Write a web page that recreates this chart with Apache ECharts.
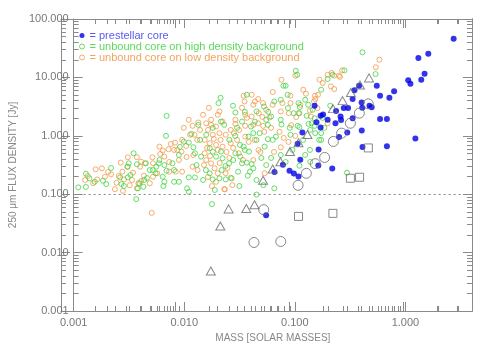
<!DOCTYPE html>
<html>
<head>
    <meta charset="UTF-8">
    <title>250 micron flux vs mass</title>
    <style>
        html, body { margin: 0; padding: 0; background: #fff; }
        #main { width: 491px; height: 350px; }
    </style>
</head>
<body>
<div id="main"></div>
<script src="https://cdn.jsdelivr.net/npm/echarts@6.0.0/dist/echarts.min.js"></script>
<script>
    // [mass (solar masses), 250 um flux density (Jy)]
    var prestellar = [
        [2.73, 45.7], [1.61, 25.5], [1.31, 21.5], [1.49, 11.6], [1.39, 9.1], [1.06, 8.9], [1.11, 7.8],
        [0.551, 7.2], [0.381, 7.2], [0.79, 5.8], [0.346, 6.0], [0.59, 4.85], [0.716, 4.48], [0.333, 4.26],
        [0.402, 3.72], [0.473, 3.27], [0.495, 3.08], [0.407, 3.02], [0.277, 2.98], [0.303, 2.98],
        [0.151, 3.27], [0.236, 2.65], [0.180, 2.31], [0.171, 2.20], [0.259, 2.14], [0.333, 2.00],
        [0.198, 1.88], [0.262, 1.86], [0.59, 1.93], [0.68, 1.93], [0.157, 1.70], [0.171, 1.39],
        [0.233, 1.64], [0.403, 1.23], [0.298, 1.14], [0.117, 1.14], [0.251, 0.95], [1.23, 0.90],
        [0.68, 0.66], [0.409, 0.64], [0.164, 0.58], [0.106, 0.73], [0.112, 0.39], [0.078, 0.32],
        [0.163, 0.31], [0.218, 0.275], [0.0655, 0.24], [0.0895, 0.252], [0.098, 0.226], [0.108, 0.20],
        [0.055, 0.0438]
    ];
    var unboundHigh = [
        [0.00110, 0.131], [0.00129, 0.224], [0.00129, 0.133], [0.00139, 0.187], [0.00155, 0.163],
        [0.00184, 0.170], [0.00197, 0.149], [0.00263, 0.194], [0.00270, 0.149], [0.00285, 0.138],
        [0.00305, 0.296], [0.00315, 0.338], [0.00348, 0.502], [0.00373, 0.325], [0.00393, 0.154],
        [0.00381, 0.126], [0.00450, 0.338], [0.00559, 0.296], [0.00551, 0.228], [0.00589, 0.338],
        [0.00684, 0.996], [0.00692, 2.20], [0.00661, 0.316], [0.00692, 0.252], [0.00639, 0.199],
        [0.00782, 0.338], [0.00895, 0.470], [0.00990, 0.794], [0.0110, 0.764], [0.0121, 0.637],
        [0.0125, 0.502], [0.0139, 0.851], [0.0129, 0.316], [0.0110, 0.194], [0.0125, 0.194],
        [0.0142, 0.440], [0.0106, 0.126], [0.0110, 0.110], [0.00368, 0.0824], [0.00435, 0.175],
        [0.00427, 0.134], [0.00488, 0.259], [0.00309, 0.194], [0.00809, 0.163], [0.00895, 0.163],
        [0.00648, 0.138], [0.00661, 0.163],
        [0.0215, 1.75], [0.0230, 1.54], [0.0333, 1.75], [0.0401, 1.44], [0.0435, 1.75], [0.0481, 1.11],
        [0.0570, 1.54], [0.0757, 1.56], [0.0900, 1.37], [0.0913, 1.04], [0.0675, 0.968], [0.0533, 0.652],
        [0.0570, 0.875], [0.0631, 0.851], [0.0381, 0.968], [0.0421, 1.11], [0.0344, 0.652], [0.0385, 0.536],
        [0.0290, 0.502], [0.0321, 0.440], [0.0333, 0.338], [0.0368, 0.347], [0.0407, 0.329], [0.0421, 0.277],
        [0.0393, 0.243], [0.0170, 0.612], [0.0181, 0.536], [0.0194, 0.440], [0.0215, 0.536], [0.0222, 0.412],
        [0.0254, 0.338], [0.0236, 0.304], [0.0157, 0.259], [0.0170, 0.228], [0.0181, 0.179], [0.0208, 0.187],
        [0.0237, 0.179], [0.0307, 0.243], [0.0268, 0.187], [0.110, 0.307], [0.137, 0.573], [0.106, 1.48],
        [0.133, 1.60], [0.173, 0.851], [0.0652, 0.126], [0.0450, 0.0984], [0.0178, 0.0676], [0.0315, 0.138],
        [0.0375, 0.207], [0.296, 0.233],
        [0.102, 13.0], [0.105, 11.1], [0.0788, 7.20], [0.0826, 7.20], [0.173, 6.15], [0.198, 9.39],
        [0.0204, 3.63], [0.0276, 3.27], [0.0290, 2.50], [0.0450, 2.61], [0.0526, 3.18], [0.0652, 3.87],
        [0.0865, 2.98], [0.108, 3.63], [0.0976, 2.44], [0.128, 2.20], [0.151, 2.00], [0.0610, 2.14],
        [0.0746, 1.88], [0.0551, 1.88], [0.409, 26.9], [0.537, 11.4], [0.281, 13.2], [0.219, 11.1],
        [0.111, 3.10], [0.132, 3.40], [0.209, 3.27], [0.110, 2.44], [0.142, 1.64], [0.151, 1.48],
        [0.110, 1.41], [0.173, 1.11], [0.166, 0.851], [0.153, 1.11], [0.138, 1.26], [0.0368, 5.04],
        [0.138, 0.357],
        [0.0158, 1.04], [0.0181, 1.37], [0.0256, 0.851], [0.0289, 0.996], [0.0319, 0.698], [0.0353, 0.573],
        [0.0450, 0.851], [0.0498, 0.417], [0.0551, 0.316], [0.0610, 0.417], [0.0746, 0.470], [0.0826, 0.356],
        [0.0951, 0.573], [0.119, 0.851], [0.124, 0.470], [0.0148, 0.175], [0.0189, 0.118], [0.0218, 0.259],
        [0.0277, 0.385], [0.0450, 0.175], [0.0519, 0.143], [0.0134, 1.54], [0.0116, 1.08], [0.00913, 0.645],
        [0.00809, 0.259], [0.00597, 0.385], [0.00519, 0.259], [0.00460, 0.189], [0.00326, 0.213],
        [0.00218, 0.281], [0.0746, 4.14], [0.0860, 5.04], [0.124, 4.14], [0.145, 2.79], [0.178, 2.03],
        [0.185, 1.37], [0.0574, 2.57], [0.0353, 2.57], [0.0213, 4.48], [0.0301, 1.37]
    ];
    var unboundLow = [
        [0.00158, 0.267], [0.00180, 0.277], [0.00163, 0.179], [0.00192, 0.199], [0.00218, 0.219],
        [0.00236, 0.122], [0.00244, 0.157], [0.00276, 0.243], [0.00285, 0.179], [0.00266, 0.347],
        [0.00321, 0.142], [0.00407, 0.168], [0.00432, 0.207], [0.00399, 0.296], [0.00407, 0.361],
        [0.00516, 0.429], [0.00597, 0.652], [0.00606, 0.489], [0.00639, 0.557], [0.00661, 0.440],
        [0.00721, 0.589], [0.00757, 0.726], [0.00825, 0.764], [0.00865, 0.573], [0.00945, 0.536],
        [0.00957, 0.851], [0.0104, 0.670], [0.0113, 1.04], [0.0119, 1.48], [0.0134, 1.69],
        [0.0139, 1.26], [0.0119, 0.296], [0.0132, 0.259], [0.00957, 0.243], [0.00837, 0.243],
        [0.00731, 0.243], [0.00570, 0.228], [0.00522, 0.199], [0.00488, 0.154], [0.00373, 0.126],
        [0.00279, 0.114], [0.00344, 0.233], [0.00127, 0.175], [0.00134, 0.205], [0.00150, 0.154],
        [0.00205, 0.240], [0.00309, 0.429], [0.00309, 0.296], [0.00373, 0.429], [0.00441, 0.338],
        [0.00522, 0.338], [0.00508, 0.0479], [0.00337, 0.175], [0.00385, 0.154], [0.00256, 0.205],
        [0.0158, 1.64], [0.0175, 1.54], [0.0194, 1.44], [0.0164, 1.26], [0.0181, 1.04], [0.0208, 1.11],
        [0.0237, 1.04], [0.0263, 1.26], [0.0281, 1.11], [0.0290, 1.60], [0.0356, 1.48], [0.0421, 1.54],
        [0.0466, 1.64], [0.0516, 1.48], [0.0153, 0.851], [0.0170, 0.746], [0.0194, 0.698], [0.0222, 0.652],
        [0.0263, 0.746], [0.0153, 0.502], [0.0158, 0.385], [0.0175, 0.338], [0.0188, 0.277], [0.0201, 0.228],
        [0.0237, 0.228], [0.0194, 0.163], [0.0230, 0.122], [0.0533, 0.228], [0.0746, 0.637], [0.0727, 1.17],
        [0.0926, 1.52], [0.0311, 0.502], [0.0356, 0.968], [0.0263, 0.191], [0.0757, 9.13], [0.0631, 5.61],
        [0.0407, 5.04], [0.0344, 4.85], [0.0351, 3.87], [0.0435, 3.87], [0.0466, 4.26], [0.0421, 3.40],
        [0.0516, 3.63], [0.0631, 3.40], [0.0772, 3.63], [0.0913, 4.85], [0.0913, 3.63], [0.119, 6.15],
        [0.126, 5.25], [0.198, 11.1], [0.215, 11.9], [0.167, 9.13], [0.227, 10.7], [0.179, 8.01],
        [0.152, 4.85], [0.0208, 2.61], [0.0201, 2.29], [0.0222, 1.75], [0.0290, 1.88], [0.0356, 2.29],
        [0.0407, 2.14], [0.0472, 2.44], [0.0551, 2.79], [0.0589, 2.06], [0.0746, 2.61], [0.0882, 2.44],
        [0.108, 2.44], [0.0175, 1.88], [0.582, 20.1], [0.540, 14.9], [0.268, 13.2], [0.251, 10.7],
        [0.212, 7.0], [0.227, 6.32], [0.162, 5.04], [0.153, 4.26], [0.149, 3.87], [0.101, 10.7],
        [0.137, 2.71], [0.160, 2.98], [0.112, 3.40], [0.103, 2.09], [0.140, 2.14], [0.198, 1.64],
        [0.256, 10.2], [0.0233, 0.121], [0.0421, 0.385], [0.0469, 0.573],
        [0.0161, 0.620], [0.0171, 0.451], [0.0185, 0.885], [0.0201, 0.573], [0.0213, 0.851], [0.0241, 0.529],
        [0.0256, 0.417], [0.0277, 0.620], [0.0301, 0.851], [0.0151, 0.316], [0.0164, 0.197], [0.0178, 0.138],
        [0.0209, 0.342], [0.0246, 0.281], [0.0272, 0.143], [0.0313, 1.26], [0.0339, 0.385], [0.0383, 0.786],
        [0.0433, 0.851], [0.0488, 0.529], [0.0131, 0.851], [0.0124, 1.04], [0.0105, 0.434], [0.00895, 0.385],
        [0.00809, 0.573], [0.00731, 0.356], [0.0121, 0.470], [0.0148, 2.29], [0.0167, 3.02], [0.0333, 3.02],
        [0.0508, 2.11], [0.0368, 2.03], [0.0529, 1.17], [0.0610, 1.37], [0.0793, 0.920], [0.0648, 0.529],
        [0.0877, 0.786], [0.101, 0.996], [0.00990, 1.37], [0.0110, 1.88]
    ];
    // grey symbols (not in legend)
    var triangles = [
        [0.469, 9.8], [0.388, 7.4], [0.321, 5.5], [0.270, 4.0], [0.221, 2.92], [0.130, 1.05],
        [0.108, 0.76], [0.0904, 0.54], [0.074, 0.36], [0.063, 0.27], [0.0516, 0.173], [0.0432, 0.0658],
        [0.0364, 0.057], [0.0252, 0.056], [0.0212, 0.0286], [0.0174, 0.00483]
    ];
    var circles = [
        [0.461, 3.53], [0.383, 2.44], [0.318, 1.64], [0.265, 1.11], [0.223, 0.80], [0.186, 0.426],
        [0.153, 0.333], [0.127, 0.228], [0.107, 0.142], [0.0523, 0.0543], [0.0427, 0.0149], [0.0746, 0.0155]
    ];
    var squares = [
        [0.462, 0.62], [0.318, 0.1875], [0.385, 0.195], [0.108, 0.0417], [0.221, 0.047]
    ];
    var fluxLimit = 0.1;
    var massRange = [0.001, 4];
    var fluxRange = [0.001, 100];

    var blue = '#0000e6', green = '#44d444', orange = '#f29a4a', grey = '#6a6a6a';
    var axisGrey = '#8a8a8a';
    var font = 'Liberation Sans';
    var plotRect = { left: 61, right: 19, top: 19, bottom: 39 };

    var myChart = echarts.init(document.getElementById('main'));

    function logAxis(range, pos, labels, gridIndex) {
        return {
            type: 'log',
            logBase: 10,
            gridIndex: gridIndex,
            min: range[0],
            max: range[1],
            position: pos,
            axisLine: { show: true, onZero: false, lineStyle: { color: axisGrey, width: 1 } },
            axisTick: { show: true, inside: true, length: 9, lineStyle: { color: axisGrey } },
            minorTick: { show: true, splitNumber: 9, length: 5, lineStyle: { color: axisGrey } },
            splitLine: { show: false },
            axisLabel: {
                show: labels,
                showMaxLabel: false,
                color: '#777',
                fontFamily: font,
                fontSize: 11,
                margin: 5,
                formatter: function (v) { return Number(v).toFixed(3); }
            }
        };
    }

    function hollow(name, data, symbol, size, color, extra) {
        var s = {
            name: name,
            type: 'scatter',
            data: data,
            symbol: symbol,
            symbolSize: size,
            itemStyle: { color: 'transparent', borderColor: color, borderWidth: 1 },
            emphasis: { disabled: true },
            silent: true
        };
        return Object.assign(s, extra || {});
    }

    var xBottom = logAxis(massRange, 'bottom', true, 0);
    xBottom.name = 'MASS [SOLAR MASSES]';
    xBottom.nameLocation = 'middle';
    xBottom.nameGap = 22;
    xBottom.nameTextStyle = { color: '#888', fontFamily: font, fontSize: 10 };
    xBottom.axisLabel.margin = 6;

    var yLeft = logAxis(fluxRange, 'left', true, 0);
    yLeft.name = '250 \u03bcm FLUX DENSITY [Jy]';
    yLeft.nameLocation = 'middle';
    yLeft.nameGap = 49;
    yLeft.nameTextStyle = { color: '#888', fontFamily: font, fontSize: 10 };
    yLeft.axisLabel.showMaxLabel = true;

    // a second grid on the same rectangle carries only the box ticks
    myChart.setOption({
        animation: false,
        backgroundColor: '#fff',
        grid: [Object.assign({}, plotRect), Object.assign({}, plotRect)],
        legend: {
            left: 74,
            top: 25,
            orient: 'vertical',
            itemWidth: 5,
            itemHeight: 5,
            itemGap: 0,
            selectedMode: false,
            formatter: function (name) { return '= ' + name; },
            textStyle: { fontFamily: font, fontSize: 11, lineHeight: 10 },
            data: [
                { name: 'prestellar core', textStyle: { color: '#5a5af0' } },
                { name: 'unbound core on high density background', itemStyle: { borderWidth: 1 }, textStyle: { color: '#5cd85c' } },
                { name: 'unbound core on low density background', itemStyle: { borderWidth: 1 }, textStyle: { color: '#f2a460' } }
            ]
        },
        xAxis: [xBottom, logAxis(massRange, 'top', false, 0),
            logAxis(massRange, 'bottom', false, 1), logAxis(massRange, 'top', false, 1)],
        yAxis: [yLeft, logAxis(fluxRange, 'right', false, 0),
            logAxis(fluxRange, 'left', false, 1), logAxis(fluxRange, 'right', false, 1)],
        series: [
            hollow('unbound core on low density background', unboundLow, 'circle', 5, orange, {
                markLine: {
                    silent: true,
                    symbol: ['none', 'none'],
                    label: { show: false },
                    lineStyle: { color: '#888', type: [2, 3], width: 1 },
                    data: [{ yAxis: fluxLimit }]
                }
            }),
            hollow('unbound core on high density background', unboundHigh, 'circle', 5, green),
            {
                name: 'prestellar core',
                type: 'scatter',
                data: prestellar,
                symbol: 'circle',
                symbolSize: 6,
                itemStyle: { color: blue },
                emphasis: { disabled: true },
                silent: true
            },
            hollow('triangles', triangles, 'triangle', [9, 8], grey),
            hollow('circles', circles, 'circle', 10, grey),
            hollow('squares', squares, 'rect', 8, grey)
        ]
    });
</script>
</body>
</html>
